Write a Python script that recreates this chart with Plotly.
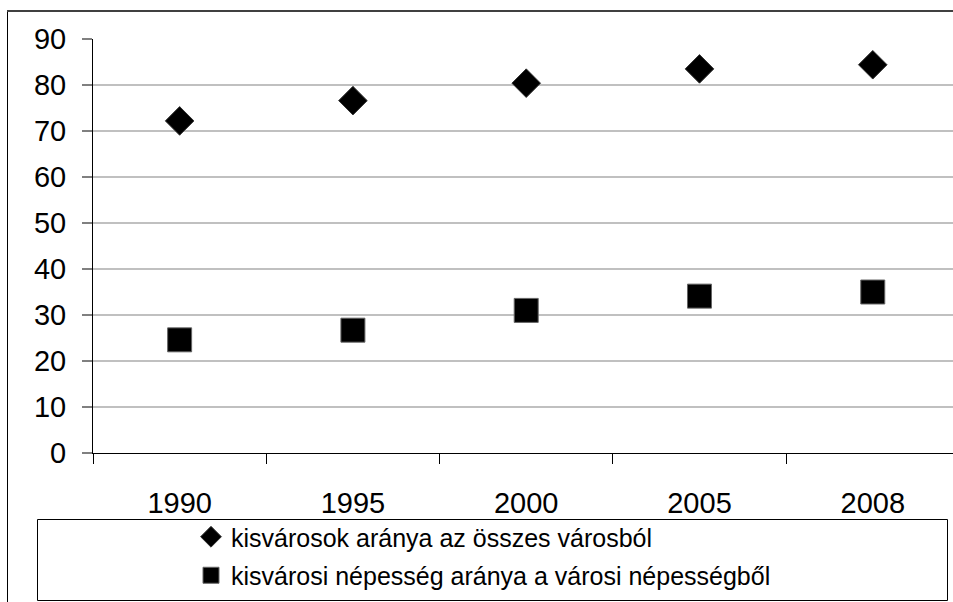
import plotly.graph_objects as go

years = ["1990", "1995", "2000", "2005", "2008"]
name_a = "kisvárosok aránya az összes városból"
name_b = "kisvárosi népesség aránya a városi népességből"
share_towns = [72.2, 76.6, 80.4, 83.5, 84.4]
share_pop = [24.6, 26.7, 31.0, 34.1, 35.0]

W, H = 953, 602
L, R, T, B = 93, 0, 39, 602 - 453
pw, ph = W - L - R, H - T - B

def px(x):
    return (x - L) / pw

def py(y):
    return (H - B - y) / ph

fig = go.Figure()
fig.add_trace(go.Scatter(
    x=years, y=share_towns, mode="markers", name=name_a, legendgroup="a",
    marker=dict(symbol="diamond", size=22, color="black", line=dict(color="#333333", width=1)),
))
fig.add_trace(go.Scatter(
    x=years, y=share_pop, mode="markers", name=name_b, legendgroup="b",
    marker=dict(symbol="square", size=24, color="black", line=dict(color="#666666", width=1)),
))

font = "Liberation Sans, Arial, sans-serif"
fig.update_layout(
    width=W, height=H,
    margin=dict(l=L, r=R, t=T, b=B, pad=0),
    paper_bgcolor="white", plot_bgcolor="white",
    font=dict(family=font, color="black"),
    showlegend=True,
    legend=dict(
        x=px(191), y=py(514), xanchor="left", yanchor="top",
        xref="paper", yref="paper",
        font=dict(size=25, family=font, color="black"),
        bgcolor="rgba(0,0,0,0)", borderwidth=0,
        traceorder="grouped", tracegroupgap=3,
    ),
    xaxis=dict(
        type="category", range=[-0.5, 4.463],
        tickson="boundaries", ticks="outside", ticklen=10, tickwidth=1, tickcolor="black",
        showline=True, linecolor="black", linewidth=1,
        showgrid=False, zeroline=False,
        tickfont=dict(size=29, family=font, color="black"),
        ticklabelstandoff=24,
    ),
    yaxis=dict(
        range=[0, 90], dtick=10, tick0=0,
        ticks="outside", ticklen=10, tickwidth=2, tickcolor="#808080",
        showline=True, linecolor="black", linewidth=1,
        showgrid=True, gridcolor="#c0c0c0", gridwidth=2,
        zeroline=False,
        tickfont=dict(size=29, family=font, color="black"),
        ticklabelstandoff=10,
    ),
    shapes=[
        dict(type="line", xref="paper", yref="paper", x0=px(7.5), x1=px(7.5), y0=py(11), y1=py(602),
             line=dict(color="black", width=1)),
        dict(type="line", xref="paper", yref="paper", x0=px(7), x1=px(953), y0=py(11), y1=py(11),
             line=dict(color="#404040", width=2)),
        dict(type="rect", xref="paper", yref="paper", x0=px(37.5), x1=px(947.5), y0=py(519.5), y1=py(600.5),
             line=dict(color="black", width=1), fillcolor="rgba(0,0,0,0)", layer="below"),
    ],
)

fig.write_html(
    "out.html",
    config={"displayModeBar": False},
    post_script="document.body.style.margin='0';document.body.style.overflow='hidden';",
)
